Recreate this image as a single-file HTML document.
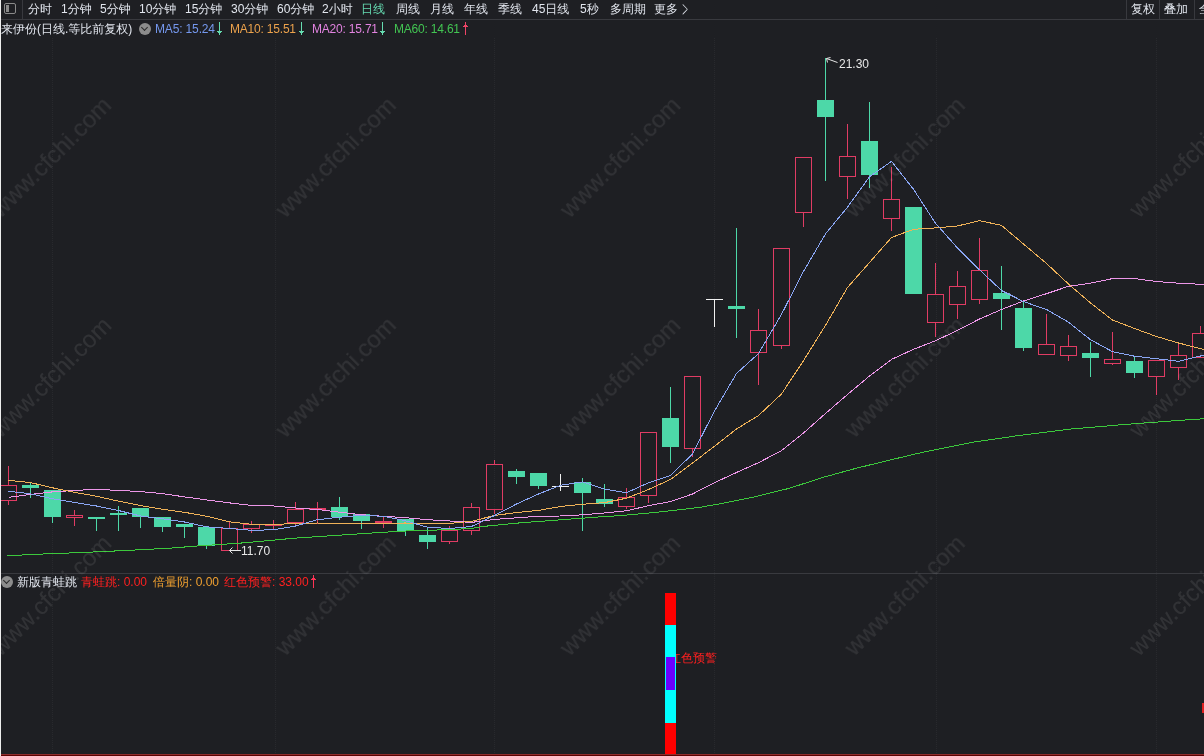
<!DOCTYPE html>
<html><head><meta charset="utf-8"><title>来伊份 日线</title>
<style>
*{margin:0;padding:0;box-sizing:border-box}
html,body{width:1204px;height:756px;overflow:hidden;background:#1e1f23}
body{position:relative;font-family:"Liberation Sans","WenQuanYi Zen Hei",sans-serif;font-size:12px;color:#e2e6ee}
#lb{position:absolute;left:0;top:0;width:1px;height:756px;background:#eeeeee;z-index:10}
#tb{position:absolute;left:1px;top:0;width:1203px;height:20px;border-bottom:1px solid #393a3f;will-change:transform}
#tb span{position:absolute;top:2px;line-height:14px;white-space:nowrap;color:#e2e6ee;font-family:"Liberation Sans","WenQuanYi Zen Hei",sans-serif}
#tb span.act{color:#66dcb2}
.vd{position:absolute;top:0;width:1px;height:19px;background:#38393e}
.ico{position:absolute;left:3px;top:3px;width:12px;height:11px;border:1px solid #8a8a8a;border-radius:2px}
.ico i{position:absolute;left:1px;top:1px;width:3px;height:7px;background:#8a8a8a}
.ttl{position:absolute;top:22px;line-height:14px;white-space:nowrap;will-change:transform}
.circ{position:absolute;width:12px;height:12px;border-radius:50%;background:#8c8c8c}
.circ:after{content:"";position:absolute;left:3px;top:2px;width:4px;height:4px;border-right:1.5px solid #2a2a2a;border-bottom:1.5px solid #2a2a2a;transform:rotate(45deg)}
.ch{position:absolute;left:0;top:0}
.lbl{position:absolute;font-size:12px;color:#e8e8e8;line-height:14px;will-change:transform}
#sep{position:absolute;left:1px;top:573px;width:1203px;height:1px;background:#393a3f}
</style></head><body>
<div id="lb"></div>
<div id="tb">
<div class="ico"><i></i></div>
<div class="vd" style="left:21px"></div>
<span style="left:27px">分时</span>
<span style="left:60px">1分钟</span>
<span style="left:99px">5分钟</span>
<span style="left:138px">10分钟</span>
<span style="left:184px">15分钟</span>
<span style="left:230px">30分钟</span>
<span style="left:276px">60分钟</span>
<span style="left:321px">2小时</span>
<span class="act" style="left:360px">日线</span>
<span style="left:395px">周线</span>
<span style="left:429px">月线</span>
<span style="left:463px">年线</span>
<span style="left:497px">季线</span>
<span style="left:531px">45日线</span>
<span style="left:579px">5秒</span>
<span style="left:609px">多周期</span>
<span style="left:653px">更多</span>
<span style="left:681px;top:3.5px;transform:scale(0.62,1.7);transform-origin:0 9.5px;font-family:'DejaVu Sans',sans-serif;font-weight:200">&gt;</span>
<div class="vd" style="left:1125px"></div>
<span style="left:1130px">复权</span>
<div class="vd" style="left:1158px"></div>
<span style="left:1163px">叠加</span>
<div class="vd" style="left:1193px"></div>
<span style="left:1198px">全</span>
</div>
<div class="ttl" style="left:1px">来伊份(日线.等比前复权)</div>
<div class="circ" style="left:139px;top:23px"></div>
<div class="ttl" style="left:155px;color:#7598ee;letter-spacing:-0.15px">MA5: 15.24</div>
<div class="ttl" style="left:230px;color:#eca24c;letter-spacing:-0.2px">MA10: 15.51</div>
<div class="ttl" style="left:312px;color:#e283e0;letter-spacing:-0.2px">MA20: 15.71</div>
<div class="ttl" style="left:394px;color:#42c452;letter-spacing:-0.2px">MA60: 14.61</div>
<div id="sep"></div>
<div class="ttl" style="left:669px;top:651px;color:#ff2020">红色预警</div>
<svg class="ch" width="1204" height="756" viewBox="0 0 1204 756">
<line x1="52.5" y1="38" x2="52.5" y2="753" stroke="#28292d" stroke-width="1" stroke-dasharray="1,1"/>
<line x1="275.5" y1="38" x2="275.5" y2="753" stroke="#28292d" stroke-width="1" stroke-dasharray="1,1"/>
<line x1="494.5" y1="38" x2="494.5" y2="753" stroke="#28292d" stroke-width="1" stroke-dasharray="1,1"/>
<line x1="714.5" y1="38" x2="714.5" y2="753" stroke="#28292d" stroke-width="1" stroke-dasharray="1,1"/>
<line x1="936.5" y1="38" x2="936.5" y2="753" stroke="#28292d" stroke-width="1" stroke-dasharray="1,1"/>
<line x1="1156.5" y1="38" x2="1156.5" y2="753" stroke="#28292d" stroke-width="1" stroke-dasharray="1,1"/>
<g shape-rendering="crispEdges">
<rect x="8" y="466" width="1" height="19" fill="#e03c64"/>
<rect x="8" y="501" width="1" height="4" fill="#e03c64"/>
<rect x="0.5" y="485.5" width="16" height="15" fill="none" stroke="#e03c64" stroke-width="1"/>
<rect x="30" y="482" width="1" height="16" fill="#4dd8a8"/>
<rect x="22" y="485" width="17" height="3" fill="#4dd8a8"/>
<rect x="52" y="490" width="1" height="33" fill="#4dd8a8"/>
<rect x="44" y="490" width="17" height="27" fill="#4dd8a8"/>
<rect x="74" y="510" width="1" height="5" fill="#e03c64"/>
<rect x="74" y="518" width="1" height="8" fill="#e03c64"/>
<rect x="66.5" y="515.5" width="16" height="2" fill="none" stroke="#e03c64" stroke-width="1"/>
<rect x="96" y="517" width="1" height="14" fill="#4dd8a8"/>
<rect x="88" y="517" width="17" height="2" fill="#4dd8a8"/>
<rect x="118" y="506" width="1" height="25" fill="#4dd8a8"/>
<rect x="110" y="513" width="17" height="2" fill="#4dd8a8"/>
<rect x="140" y="508" width="1" height="20" fill="#4dd8a8"/>
<rect x="132" y="508" width="17" height="9" fill="#4dd8a8"/>
<rect x="162" y="517" width="1" height="15" fill="#4dd8a8"/>
<rect x="154" y="517" width="17" height="10" fill="#4dd8a8"/>
<rect x="184" y="524" width="1" height="14" fill="#4dd8a8"/>
<rect x="176" y="524" width="17" height="3" fill="#4dd8a8"/>
<rect x="206" y="527" width="1" height="22" fill="#4dd8a8"/>
<rect x="198" y="527" width="17" height="19" fill="#4dd8a8"/>
<rect x="229" y="522" width="1" height="6" fill="#e03c64"/>
<rect x="221.5" y="528.5" width="16" height="22" fill="none" stroke="#e03c64" stroke-width="1"/>
<rect x="251" y="521" width="1" height="3" fill="#e03c64"/>
<rect x="251" y="529" width="1" height="4" fill="#e03c64"/>
<rect x="243.5" y="524.5" width="16" height="4" fill="none" stroke="#e03c64" stroke-width="1"/>
<rect x="273" y="520" width="1" height="10" fill="#e03c64"/>
<rect x="265" y="524" width="17" height="2" fill="#e03c64"/>
<rect x="295" y="502" width="1" height="7" fill="#e03c64"/>
<rect x="295" y="523" width="1" height="4" fill="#e03c64"/>
<rect x="287.5" y="509.5" width="16" height="13" fill="none" stroke="#e03c64" stroke-width="1"/>
<rect x="317" y="502" width="1" height="22" fill="#e03c64"/>
<rect x="309" y="508" width="17" height="2" fill="#e03c64"/>
<rect x="339" y="497" width="1" height="23" fill="#4dd8a8"/>
<rect x="331" y="507" width="17" height="10" fill="#4dd8a8"/>
<rect x="361" y="514" width="1" height="15" fill="#4dd8a8"/>
<rect x="353" y="514" width="17" height="7" fill="#4dd8a8"/>
<rect x="383" y="517" width="1" height="11" fill="#e03c64"/>
<rect x="375" y="521" width="17" height="2" fill="#e03c64"/>
<rect x="405" y="519" width="1" height="17" fill="#4dd8a8"/>
<rect x="397" y="519" width="17" height="12" fill="#4dd8a8"/>
<rect x="427" y="528" width="1" height="21" fill="#4dd8a8"/>
<rect x="419" y="535" width="17" height="7" fill="#4dd8a8"/>
<rect x="449" y="526" width="1" height="4" fill="#e03c64"/>
<rect x="449" y="542" width="1" height="2" fill="#e03c64"/>
<rect x="441.5" y="530.5" width="16" height="11" fill="none" stroke="#e03c64" stroke-width="1"/>
<rect x="471" y="503" width="1" height="4" fill="#e03c64"/>
<rect x="471" y="531" width="1" height="4" fill="#e03c64"/>
<rect x="463.5" y="507.5" width="16" height="23" fill="none" stroke="#e03c64" stroke-width="1"/>
<rect x="494" y="460" width="1" height="4" fill="#e03c64"/>
<rect x="494" y="510" width="1" height="4" fill="#e03c64"/>
<rect x="486.5" y="464.5" width="16" height="45" fill="none" stroke="#e03c64" stroke-width="1"/>
<rect x="516" y="469" width="1" height="15" fill="#4dd8a8"/>
<rect x="508" y="471" width="17" height="6" fill="#4dd8a8"/>
<rect x="538" y="473" width="1" height="16" fill="#4dd8a8"/>
<rect x="530" y="473" width="17" height="13" fill="#4dd8a8"/>
<rect x="560" y="474" width="1" height="17" fill="#f0f0f0"/>
<rect x="552" y="486" width="17" height="1" fill="#f0f0f0"/>
<rect x="582" y="478" width="1" height="53" fill="#4dd8a8"/>
<rect x="574" y="482" width="17" height="11" fill="#4dd8a8"/>
<rect x="604" y="484" width="1" height="23" fill="#4dd8a8"/>
<rect x="596" y="499" width="17" height="5" fill="#4dd8a8"/>
<rect x="626" y="488" width="1" height="9" fill="#e03c64"/>
<rect x="626" y="507" width="1" height="2" fill="#e03c64"/>
<rect x="618.5" y="497.5" width="16" height="9" fill="none" stroke="#e03c64" stroke-width="1"/>
<rect x="648" y="496" width="1" height="7" fill="#e03c64"/>
<rect x="640.5" y="432.5" width="16" height="63" fill="none" stroke="#e03c64" stroke-width="1"/>
<rect x="670" y="387" width="1" height="76" fill="#4dd8a8"/>
<rect x="662" y="418" width="17" height="29" fill="#4dd8a8"/>
<rect x="692" y="449" width="1" height="8" fill="#e03c64"/>
<rect x="684.5" y="376.5" width="16" height="72" fill="none" stroke="#e03c64" stroke-width="1"/>
<rect x="714" y="299" width="1" height="28" fill="#f0f0f0"/>
<rect x="706" y="299" width="17" height="1" fill="#f0f0f0"/>
<rect x="736" y="228" width="1" height="110" fill="#4dd8a8"/>
<rect x="728" y="306" width="17" height="3" fill="#4dd8a8"/>
<rect x="758" y="309" width="1" height="21" fill="#e03c64"/>
<rect x="758" y="353" width="1" height="32" fill="#e03c64"/>
<rect x="750.5" y="330.5" width="16" height="22" fill="none" stroke="#e03c64" stroke-width="1"/>
<rect x="781" y="346" width="1" height="3" fill="#e03c64"/>
<rect x="773.5" y="248.5" width="16" height="97" fill="none" stroke="#e03c64" stroke-width="1"/>
<rect x="803" y="213" width="1" height="14" fill="#e03c64"/>
<rect x="795.5" y="157.5" width="16" height="55" fill="none" stroke="#e03c64" stroke-width="1"/>
<rect x="825" y="58" width="1" height="123" fill="#4dd8a8"/>
<rect x="817" y="100" width="17" height="17" fill="#4dd8a8"/>
<rect x="847" y="124" width="1" height="32" fill="#e03c64"/>
<rect x="847" y="177" width="1" height="22" fill="#e03c64"/>
<rect x="839.5" y="156.5" width="16" height="20" fill="none" stroke="#e03c64" stroke-width="1"/>
<rect x="869" y="102" width="1" height="86" fill="#4dd8a8"/>
<rect x="861" y="141" width="17" height="34" fill="#4dd8a8"/>
<rect x="891" y="167" width="1" height="32" fill="#e03c64"/>
<rect x="891" y="219" width="1" height="12" fill="#e03c64"/>
<rect x="883.5" y="199.5" width="16" height="19" fill="none" stroke="#e03c64" stroke-width="1"/>
<rect x="913" y="207" width="1" height="87" fill="#4dd8a8"/>
<rect x="905" y="207" width="17" height="87" fill="#4dd8a8"/>
<rect x="935" y="263" width="1" height="31" fill="#e03c64"/>
<rect x="935" y="323" width="1" height="14" fill="#e03c64"/>
<rect x="927.5" y="294.5" width="16" height="28" fill="none" stroke="#e03c64" stroke-width="1"/>
<rect x="957" y="271" width="1" height="15" fill="#e03c64"/>
<rect x="957" y="305" width="1" height="14" fill="#e03c64"/>
<rect x="949.5" y="286.5" width="16" height="18" fill="none" stroke="#e03c64" stroke-width="1"/>
<rect x="979" y="238" width="1" height="32" fill="#e03c64"/>
<rect x="979" y="300" width="1" height="4" fill="#e03c64"/>
<rect x="971.5" y="270.5" width="16" height="29" fill="none" stroke="#e03c64" stroke-width="1"/>
<rect x="1001" y="266" width="1" height="64" fill="#4dd8a8"/>
<rect x="993" y="293" width="17" height="6" fill="#4dd8a8"/>
<rect x="1023" y="300" width="1" height="51" fill="#4dd8a8"/>
<rect x="1015" y="308" width="17" height="40" fill="#4dd8a8"/>
<rect x="1046" y="314" width="1" height="30" fill="#e03c64"/>
<rect x="1038.5" y="344.5" width="16" height="10" fill="none" stroke="#e03c64" stroke-width="1"/>
<rect x="1068" y="335" width="1" height="11" fill="#e03c64"/>
<rect x="1068" y="356" width="1" height="5" fill="#e03c64"/>
<rect x="1060.5" y="346.5" width="16" height="9" fill="none" stroke="#e03c64" stroke-width="1"/>
<rect x="1090" y="342" width="1" height="35" fill="#4dd8a8"/>
<rect x="1082" y="353" width="17" height="5" fill="#4dd8a8"/>
<rect x="1112" y="332" width="1" height="27" fill="#e03c64"/>
<rect x="1112" y="364" width="1" height="1" fill="#e03c64"/>
<rect x="1104.5" y="359.5" width="16" height="4" fill="none" stroke="#e03c64" stroke-width="1"/>
<rect x="1134" y="356" width="1" height="22" fill="#4dd8a8"/>
<rect x="1126" y="361" width="17" height="12" fill="#4dd8a8"/>
<rect x="1156" y="377" width="1" height="18" fill="#e03c64"/>
<rect x="1148.5" y="360.5" width="16" height="16" fill="none" stroke="#e03c64" stroke-width="1"/>
<rect x="1178" y="343" width="1" height="12" fill="#e03c64"/>
<rect x="1178" y="368" width="1" height="12" fill="#e03c64"/>
<rect x="1170.5" y="355.5" width="16" height="12" fill="none" stroke="#e03c64" stroke-width="1"/>
<rect x="1200" y="326" width="1" height="7" fill="#e03c64"/>
<rect x="1192.5" y="333.5" width="16" height="24" fill="none" stroke="#e03c64" stroke-width="1"/>
</g>
<g fill="none" stroke-width="1" shape-rendering="crispEdges">
<polyline points="7.5,555.7 40.7,554.1 84.7,552.4 129.6,550.3 167.8,548.3 200.0,545.8 238.2,543.3 266.4,540.8 293.0,538.3 349.5,534.5 400.0,531.2 440.0,529.9 470.0,528.6 484.5,526.3 499.0,524.9 519.6,522.9 559.5,519.9 599.4,516.9 620.0,515.6 653.9,512.6 681.1,509.6 700.0,507.3 723.2,503.2 756.4,496.5 789.7,488.2 822.9,477.4 856.1,468.3 890.0,460.0 923.9,452.0 971.7,442.4 1016.9,435.8 1070.0,429.1 1123.2,424.6 1176.4,420.6 1205.0,418.7" stroke="#3cc83c"/>
<polyline points="8.5,497.4 30.5,494.4 52.5,491.9 74.5,490.4 96.5,489.4 118.5,490.4 140.5,491.6 162.5,493.6 184.5,496.9 206.5,499.9 229.5,502.9 251.5,505.4 273.5,506.0 295.5,508.0 317.5,509.5 339.5,512.2 361.5,514.7 383.5,516.3 405.5,517.7 427.5,519.7 449.5,521.0 471.5,522.4 494.5,519.4 516.5,517.8 538.5,516.3 560.5,516.0 582.5,514.8 604.5,513.0 626.5,510.8 648.5,505.7 670.5,501.5 692.5,494.0 714.5,482.7 736.5,472.5 758.5,462.7 781.5,450.6 803.5,433.0 825.5,413.5 847.5,394.5 869.5,376.0 891.5,359.4 913.5,349.3 935.5,340.8 957.5,330.3 979.5,319.0 1001.5,309.5 1023.5,301.0 1046.5,293.7 1068.5,286.3 1090.5,283.2 1112.5,278.6 1134.5,278.6 1156.5,281.5 1178.5,283.2 1200.5,284.3 1205.0,284.5" stroke="#ec96e8"/>
<polyline points="8.5,480.4 30.5,482.6 52.5,487.8 74.5,492.4 96.5,496.2 118.5,501.2 140.5,505.5 162.5,509.3 184.5,512.3 206.5,516.2 229.5,521.8 251.5,524.3 273.5,524.5 295.5,523.5 317.5,523.0 339.5,523.5 361.5,523.5 383.5,523.2 405.5,523.0 427.5,523.5 449.5,523.5 471.5,521.3 494.5,515.5 516.5,512.5 538.5,510.4 560.5,506.5 582.5,504.3 604.5,502.6 626.5,498.2 648.5,489.5 670.5,479.5 692.5,463.0 714.5,446.3 736.5,429.0 758.5,415.5 781.5,394.0 803.5,360.7 825.5,325.3 847.5,287.5 869.5,262.5 891.5,237.5 913.5,229.3 935.5,227.9 957.5,226.0 979.5,220.6 1001.5,225.4 1023.5,244.0 1046.5,263.5 1068.5,284.0 1090.5,303.0 1112.5,320.0 1134.5,328.5 1156.5,336.5 1178.5,343.0 1200.5,348.6 1205.0,349.7" stroke="#f0b258"/>
<polyline points="8.5,491.3 30.5,493.8 52.5,498.8 74.5,502.5 96.5,506.0 118.5,510.5 140.5,516.0 162.5,518.8 184.5,522.0 206.5,526.8 229.5,528.5 251.5,530.3 273.5,529.8 295.5,526.0 317.5,519.7 339.5,517.2 361.5,515.3 383.5,516.3 405.5,520.8 427.5,527.2 449.5,528.5 471.5,526.5 494.5,515.5 516.5,504.0 538.5,494.0 560.5,485.3 582.5,481.9 604.5,489.2 626.5,492.7 648.5,482.8 670.5,475.4 692.5,454.0 714.5,411.0 736.5,373.5 758.5,353.6 781.5,314.3 803.5,271.4 825.5,233.9 847.5,207.1 869.5,176.8 891.5,161.4 913.5,189.3 935.5,223.2 957.5,248.0 979.5,269.8 1001.5,290.5 1023.5,301.6 1046.5,309.5 1068.5,322.2 1090.5,339.7 1112.5,351.7 1134.5,356.2 1156.5,358.7 1178.5,361.3 1200.5,356.0 1205.0,354.9" stroke="#8aa6f4"/>
</g>
<g stroke="#e8e8e8" stroke-width="1" fill="none">
<path d="M826.5,58.5 L837.5,62.5 M826.5,58.5 L830.5,57.5 M826.5,58.5 L827.5,62.5"/>
<path d="M229.5,550.5 L241,550.5 M229.5,550.5 L232.5,547.5 M229.5,550.5 L232.5,553.5"/>
</g>
<g shape-rendering="crispEdges">
<rect x="665" y="593" width="11" height="32" fill="#ff0000"/>
<rect x="665" y="625" width="11" height="98" fill="#00ffff"/>
<rect x="666" y="657" width="9" height="33" fill="#6a00ff"/>
<rect x="665" y="723" width="11" height="31" fill="#ff0000"/>
<rect x="1" y="754" width="1203" height="1" fill="#8e2c2c"/>
<rect x="1" y="755" width="1203" height="1" fill="#5c0202"/>
<rect x="1202" y="703" width="2" height="10" fill="#e02020"/>
</g>
<g opacity="0.088" fill="#ffffff" stroke="#ffffff" stroke-width="0.15" font-family="Liberation Sans" font-size="24">
<text x="0.6" y="219.0" transform="rotate(-45 0.6 219.0)">www.cfchi.com</text>
<text x="285.2" y="219.0" transform="rotate(-45 285.2 219.0)">www.cfchi.com</text>
<text x="569.8" y="219.0" transform="rotate(-45 569.8 219.0)">www.cfchi.com</text>
<text x="854.4" y="219.0" transform="rotate(-45 854.4 219.0)">www.cfchi.com</text>
<text x="1139.0" y="219.0" transform="rotate(-45 1139.0 219.0)">www.cfchi.com</text>
<text x="0.6" y="439.0" transform="rotate(-45 0.6 439.0)">www.cfchi.com</text>
<text x="285.2" y="439.0" transform="rotate(-45 285.2 439.0)">www.cfchi.com</text>
<text x="569.8" y="439.0" transform="rotate(-45 569.8 439.0)">www.cfchi.com</text>
<text x="854.4" y="439.0" transform="rotate(-45 854.4 439.0)">www.cfchi.com</text>
<text x="1139.0" y="439.0" transform="rotate(-45 1139.0 439.0)">www.cfchi.com</text>
<text x="0.6" y="657.2" transform="rotate(-45 0.6 657.2)">www.cfchi.com</text>
<text x="285.2" y="657.2" transform="rotate(-45 285.2 657.2)">www.cfchi.com</text>
<text x="569.8" y="657.2" transform="rotate(-45 569.8 657.2)">www.cfchi.com</text>
<text x="854.4" y="657.2" transform="rotate(-45 854.4 657.2)">www.cfchi.com</text>
<text x="1139.0" y="657.2" transform="rotate(-45 1139.0 657.2)">www.cfchi.com</text>
</g>
<path d="M219.5,22 V35 M217,31 H222 M218,32 H221 M219,33 H220" stroke="#66dcb0" stroke-width="1" fill="none" shape-rendering="crispEdges"/>
<path d="M301.5,22 V35 M299,31 H304 M300,32 H303 M301,33 H302" stroke="#66dcb0" stroke-width="1" fill="none" shape-rendering="crispEdges"/>
<path d="M382.5,22 V35 M380,31 H385 M381,32 H384 M382,33 H383" stroke="#66dcb0" stroke-width="1" fill="none" shape-rendering="crispEdges"/>
<path d="M465.5,22 V35 M465,24 H466 M464,25 H467 M463,26 H468" stroke="#ee4466" stroke-width="1" fill="none" shape-rendering="crispEdges"/>
<path d="M313.5,575 V588 M313,577 H314 M312,578 H315 M311,579 H316" stroke="#ff3355" stroke-width="1" fill="none" shape-rendering="crispEdges"/>
</svg>
<div class="lbl" style="left:241px;top:544px">11.70</div>
<div class="lbl" style="left:839px;top:57px">21.30</div>
<div class="circ" style="left:1px;top:576px"></div>
<div class="ttl" style="left:17px;top:575px">新版青蛙跳</div>
<div class="ttl" style="left:81px;top:575px;color:#ff2020">青蛙跳: 0.00</div>
<div class="ttl" style="left:153px;top:575px;color:#f0a030">倍量阴: 0.00</div>
<div class="ttl" style="left:224px;top:575px;color:#ff2020">红色预警: 33.00</div>

</body></html>
